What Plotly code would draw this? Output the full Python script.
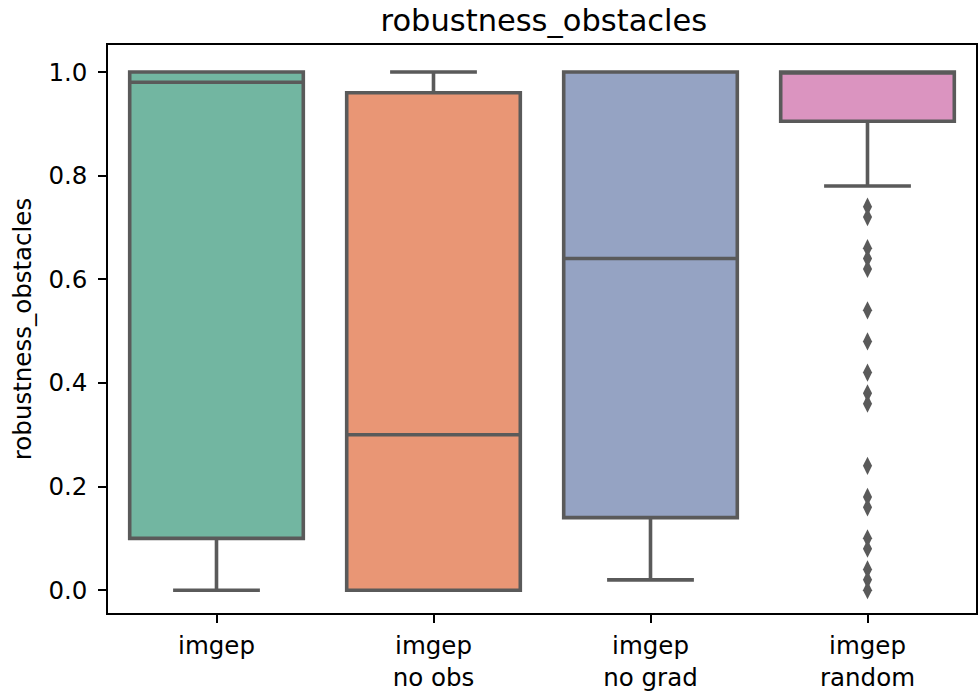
import plotly.graph_objects as go

# Summary statistics per method
methods = ["imgep", "imgep<br>no obs", "imgep<br>no grad", "imgep<br>random"]
q1 = [0.10, 0.00, 0.14, 0.905]
median = [0.98, 0.30, 0.64, 1.00]
q3 = [1.00, 0.96, 1.00, 1.00]
lower_whisker = [0.00, 0.00, 0.02, 0.78]
upper_whisker = [1.00, 1.00, 1.00, 1.00]
fill_colors = ["#72b6a1", "#e99675", "#95a3c3", "#db94c0"]

# Outlying runs of the "random" variant
random_outliers = [0.74, 0.72, 0.66, 0.64, 0.62, 0.54, 0.48, 0.42, 0.38, 0.36,
                   0.24, 0.18, 0.16, 0.10, 0.08, 0.04, 0.02, 0.00]

line_gray = "#5a5a5a"
font_family = "DejaVu Sans"
tick_size = 24.5

fig = go.Figure()
for i, name in enumerate(methods):
    fig.add_trace(go.Box(
        x=[i], q1=[q1[i]], median=[median[i]], q3=[q3[i]],
        lowerfence=[lower_whisker[i]], upperfence=[upper_whisker[i]],
        width=0.8, whiskerwidth=0.5,
        fillcolor=fill_colors[i],
        line=dict(color=line_gray, width=3.6),
        boxpoints=False, showlegend=False, hoverinfo="y",
    ))

fig.add_trace(go.Scatter(
    x=[3] * len(random_outliers), y=random_outliers, mode="markers",
    marker=dict(symbol="diamond-tall", size=13, color=line_gray,
                line=dict(width=0)),
    showlegend=False,
))

fig.update_layout(
    width=980, height=694,
    margin=dict(l=108, r=2, t=45, b=79),
    paper_bgcolor="white", plot_bgcolor="white",
    font=dict(family=font_family, size=tick_size, color="black"),
    title=dict(text="robustness_obstacles", x=0.555, xanchor="center",
               y=1 - 20 / 694, yanchor="middle", yref="container",
               font=dict(size=30.5, family=font_family, color="black")),
    boxmode="overlay",
)
fig.update_xaxes(
    range=[-0.5, 3.5], tickmode="array", tickvals=list(range(len(methods))),
    ticktext=methods, ticks="outside", ticklen=8, tickwidth=1.5,
    tickcolor="black", showline=True, linecolor="black", linewidth=1.5,
    mirror=True, showgrid=False, zeroline=False,
    tickfont=dict(size=tick_size), ticklabelstandoff=2,
)
fig.update_yaxes(
    range=[-0.044, 1.052], tickmode="array",
    tickvals=[0.0, 0.2, 0.4, 0.6, 0.8, 1.0],
    ticktext=["0.0", "0.2", "0.4", "0.6", "0.8", "1.0"],
    ticks="outside", ticklen=8, tickwidth=1.5, tickcolor="black",
    showline=True, linecolor="black", linewidth=1.5, mirror=True,
    showgrid=False, zeroline=False,
    title=dict(text="robustness_obstacles", font=dict(size=tick_size), standoff=10),
    tickfont=dict(size=tick_size), ticklabelstandoff=6,
)

fig.write_html("out.html")
